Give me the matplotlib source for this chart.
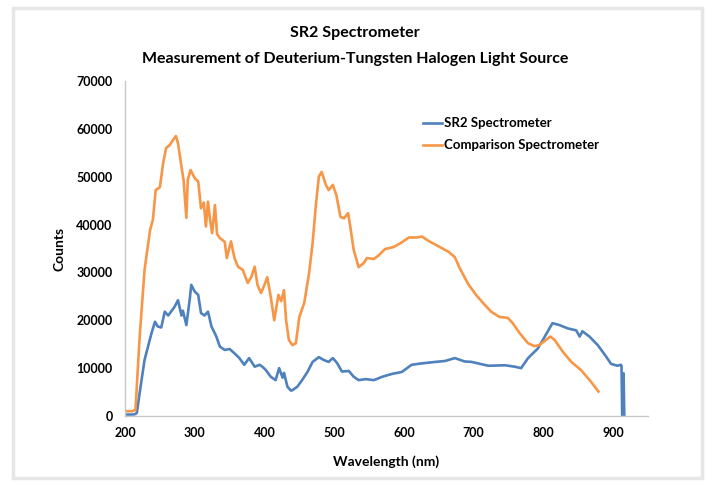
import matplotlib
matplotlib.use("Agg")
import matplotlib.pyplot as plt
from matplotlib.patches import Rectangle

# ---- data ----
sr2_nm = [200, 210, 215, 217, 221, 228, 233, 238, 243, 247, 252, 257, 262, 267, 271, 276, 281,
          283, 288, 293, 295, 300, 305, 309, 314, 319, 324, 331, 336, 343, 350, 357, 364, 371,
          378, 386, 393, 397, 402, 409, 416, 421, 426, 428, 433, 438, 440, 447, 454, 462, 469,
          478, 485, 492, 498, 504, 511, 521, 528, 535, 545, 557, 569, 583, 597, 611, 626, 645,
          659, 673, 687, 697, 706, 721, 745, 759, 768, 778, 792, 802, 813, 823, 835, 847, 852,
          856, 866, 878, 890, 897, 906, 911, 912, 913, 914, 915, 916]
sr2_counts = [300, 300, 400, 700, 4800, 11700, 14500, 17300, 19700, 18700, 18500, 21800, 21000,
              22000, 22800, 24200, 21000, 22000, 19000, 24600, 27400, 26000, 25300, 21500, 21000,
              21800, 18700, 16600, 14500, 13800, 14000, 13100, 12100, 10700, 12100, 10300, 10700,
              10300, 9600, 8200, 7500, 10000, 8000, 9000, 6100, 5300, 5400, 6100, 7500, 9300,
              11300, 12300, 11700, 11300, 12100, 11100, 9300, 9400, 8200, 7500, 7700, 7500, 8200,
              8800, 9200, 10700, 11000, 11300, 11500, 12100, 11400, 11300, 11000, 10500, 10600,
              10300, 10000, 12100, 14100, 16600, 19400, 19000, 18300, 17900, 16600, 17700, 16600,
              14800, 12400, 10900, 10500, 10700, 10500, 0, 0, 8900, 0]

cmp_nm = [200, 210, 215, 221, 228, 236, 240, 244, 250, 255, 259, 264, 269, 273, 276, 281, 284,
          288, 290, 294, 300, 305, 309, 313, 316, 319, 322, 325, 329, 332, 336, 343, 346, 352,
          357, 362, 369, 376, 381, 386, 390, 395, 400, 404, 409, 414, 420, 424, 428, 431, 435,
          440, 445, 450, 457, 464, 469, 474, 478, 482, 488, 492, 498, 503, 509, 514, 520, 523,
          528, 535, 542, 547, 557, 564, 573, 585, 595, 607, 618, 626, 635, 649, 664, 673, 680,
          692, 704, 716, 725, 737, 749, 756, 766, 778, 787, 794, 802, 810, 816, 828, 840, 854,
          868, 879]
cmp_counts = [1000, 1000, 1250, 16500, 30500, 38900, 41000, 47200, 47800, 53100, 56000, 56600,
              57700, 58500, 57000, 52100, 49300, 41400, 49300, 51400, 49700, 49000, 43400, 44600,
              39600, 44800, 41000, 38200, 44100, 38000, 37200, 36400, 33000, 36500, 33000, 31200,
              30500, 27800, 29000, 31200, 27400, 25700, 27400, 29000, 24900, 20000, 25300, 24000,
              26300, 20000, 15900, 14800, 15200, 20700, 23600, 29900, 36100, 44500, 50000, 51000,
              48300, 47200, 48300, 46200, 41600, 41300, 42400, 39600, 34700, 31100, 31900, 33000,
              32800, 33600, 34900, 35300, 36100, 37300, 37300, 37500, 36600, 35500, 34300, 33200,
              30900, 27600, 25200, 23200, 21800, 20700, 20500, 19400, 17300, 15200, 14600, 14800,
              15700, 16600, 15900, 13400, 11300, 9600, 7200, 5100]

x_ticks = [200, 300, 400, 500, 600, 700, 800, 900]
y_ticks = [0, 10000, 20000, 30000, 40000, 50000, 60000, 70000]
title_text = "SR2 Spectrometer\nMeasurement of Deuterium-Tungsten Halogen Light Source"
series_names = ["SR2 Spectrometer", "Comparison Spectrometer"]

FONT = "Lato"
fig = plt.figure(figsize=(7.08, 4.86), dpi=100)
ax = fig.add_axes([125/708, 70/486, (648-125)/708, (416-81)/486])

ax.plot(sr2_nm, sr2_counts, color="#4F81BD", lw=1.9, label=series_names[0])
ax.plot(cmp_nm, cmp_counts, color="#F79646", lw=1.9, label=series_names[1])

ax.set_xlim(200, 950)
ax.set_ylim(0, 70000)
ax.set_xticks(x_ticks)
ax.set_yticks(y_ticks)
ax.set_xticklabels([str(v) for v in x_ticks], fontfamily=FONT, fontweight="bold", fontsize=9)
ax.set_yticklabels([str(v) for v in y_ticks], fontfamily=FONT, fontweight="bold", fontsize=9)
ax.tick_params(axis="x", length=0, pad=8)
ax.tick_params(axis="y", length=0, pad=9)
for s in ["top", "right"]:
    ax.spines[s].set_visible(False)
for s in ["left", "bottom"]:
    ax.spines[s].set_color("#c8c8c8")
    ax.spines[s].set_linewidth(1.0)

ax.set_xlabel("Wavelength (nm)", fontfamily=FONT, fontweight="bold", fontsize=10, labelpad=12)
ax.set_ylabel("Counts", fontfamily=FONT, fontweight="bold", fontsize=10, labelpad=8)

fig.text(355/708, 1 - 46/486, title_text, ha="center", va="center", fontfamily=FONT,
         fontweight="bold", fontsize=11.5, linespacing=2.0)

leg = ax.legend(loc="upper left", bbox_to_anchor=((418-125)/523, 1 - (112-81)/335),
                frameon=False, prop={"family": FONT, "weight": "bold", "size": 9.5},
                handlelength=1.4, handletextpad=0.2, labelspacing=0.75, borderaxespad=0)

fig.patches.append(Rectangle((13/708, 8/486), (702-13)/708, (478-8)/486, transform=fig.transFigure,
                             fill=False, edgecolor="#e6e6e6", linewidth=2.5))

fig.savefig("out.png", dpi=100)
